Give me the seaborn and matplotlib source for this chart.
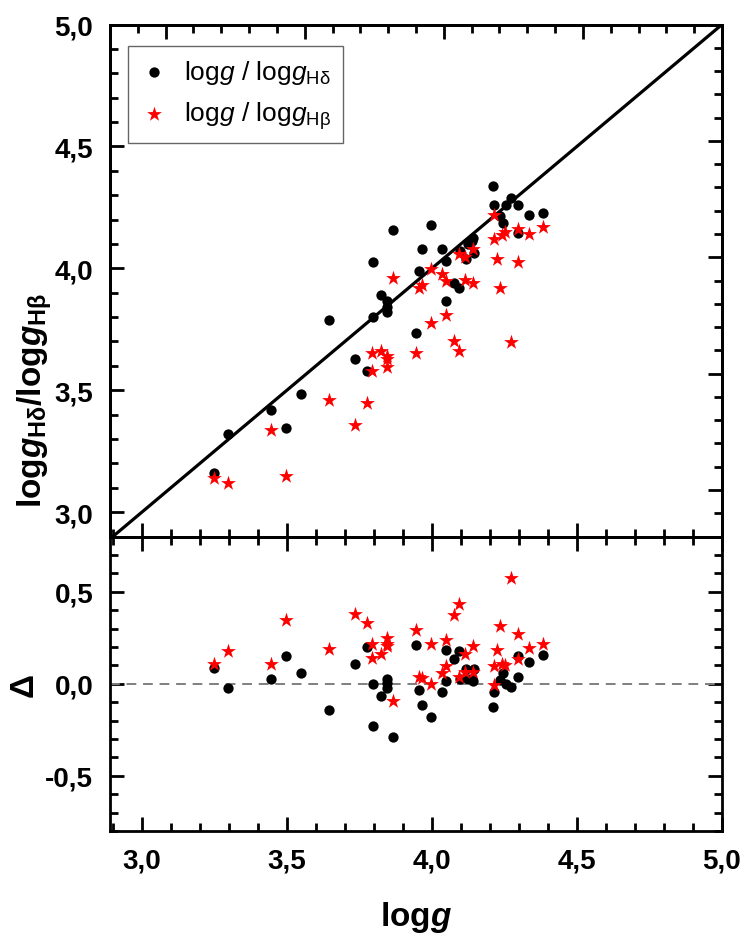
import numpy as np
import pandas as pd
import matplotlib
matplotlib.use("Agg")
import matplotlib.pyplot as plt
import seaborn as sns
from matplotlib import font_manager as fm
from matplotlib.ticker import MultipleLocator, FuncFormatter

# ---------------- data ----------------
# black circles: logg vs logg(H-delta)
logg_d = [3.247, 3.297, 3.446, 3.496, 3.547, 3.646, 3.735, 3.776, 3.796, 3.796,
          3.825, 3.845, 3.845, 3.845, 3.866, 3.946, 3.956, 3.964, 3.995, 4.035,
          4.047, 4.047, 4.075, 4.094, 4.096, 4.117, 4.126, 4.138, 4.143, 4.146,
          4.212, 4.214, 4.234, 4.246, 4.255, 4.274, 4.295, 4.295, 4.333, 4.383]
logg_Hd = [3.160, 3.320, 3.418, 3.347, 3.486, 3.787, 3.627, 3.577, 4.026, 3.800,
           3.889, 3.866, 3.840, 3.820, 4.157, 3.736, 3.990, 4.078, 4.177, 4.078,
           4.031, 3.866, 3.940, 3.918, 4.072, 4.037, 4.098, 4.110, 4.126, 4.064,
           4.337, 4.260, 4.215, 4.187, 4.258, 4.290, 4.258, 4.146, 4.217, 4.228]
# red stars: logg vs logg(H-beta)
logg_b = [3.247, 3.297, 3.446, 3.496, 3.646, 3.736, 3.776, 3.794, 3.794, 3.825,
          3.844, 3.844, 3.844, 3.865, 3.944, 3.956, 3.965, 3.995, 3.995, 4.035,
          4.047, 4.047, 4.075, 4.094, 4.094, 4.114, 4.114, 4.143, 4.143, 4.214,
          4.214, 4.223, 4.234, 4.242, 4.251, 4.274, 4.295, 4.295, 4.333, 4.383]
logg_Hb = [3.138, 3.120, 3.337, 3.149, 3.459, 3.359, 3.448, 3.652, 3.577, 3.661,
           3.640, 3.627, 3.597, 3.959, 3.652, 3.918, 3.932, 3.999, 3.777, 3.978,
           3.948, 3.809, 3.700, 4.060, 3.659, 4.048, 3.951, 4.078, 3.939, 4.219,
           4.119, 4.040, 3.918, 4.137, 4.149, 3.698, 4.160, 4.027, 4.139, 4.169]

df_d = pd.DataFrame({"logg": logg_d, "logg_H": logg_Hd})
df_b = pd.DataFrame({"logg": logg_b, "logg_H": logg_Hb})
df_d["delta"] = df_d["logg"] - df_d["logg_H"]
df_b["delta"] = df_b["logg"] - df_b["logg_H"]

# ---------------- fonts ----------------
names = {f.name for f in fm.fontManager.ttflist}
FONT = "Liberation Sans"
for cand in ("Liberation Sans Narrow", "Arial Narrow", "Nimbus Sans Narrow"):
    if cand in names:
        FONT = cand
        break

sns.set_theme(style="ticks")
plt.rcParams["font.family"] = [FONT, "DejaVu Sans"]
for k in ("text.color", "axes.labelcolor", "xtick.color", "ytick.color", "axes.edgecolor"):
    plt.rcParams[k] = "black"
plt.rcParams["mathtext.fontset"] = "custom"
plt.rcParams["mathtext.rm"] = FONT
plt.rcParams["mathtext.it"] = FONT + ":italic"
plt.rcParams["mathtext.bf"] = FONT + ":bold"
try:
    plt.rcParams["mathtext.bfit"] = FONT + ":bold:italic"
except Exception:
    pass

fmt = FuncFormatter(lambda v, p: ("%.1f" % (0.0 if abs(v) < 1e-9 else v)).replace(".", ","))

# ---------------- figure ----------------
W, H = 747, 945
fig = plt.figure(figsize=(W / 100, H / 100), dpi=100)
L, R = 110 / W, 722 / W
ytop, ymid, ybot = 25.5, 537.5, 832
ax1 = fig.add_axes([L, 1 - ymid / H, R - L, (ymid - ytop) / H])
ax2 = fig.add_axes([L, 1 - ybot / H, R - L, (ybot - ymid) / H], sharex=ax1)

lab_d = r"$\mathrm{log}\mathit{g}$ / $\mathrm{log}\mathit{g}_{\mathrm{H\delta}}$"
lab_b = r"$\mathrm{log}\mathit{g}$ / $\mathrm{log}\mathit{g}_{\mathrm{H\beta}}$"

sns.scatterplot(data=df_d, x="logg", y="logg_H", ax=ax1, color="black", marker="o",
                s=55, linewidth=0, label=lab_d, zorder=3)
sns.scatterplot(data=df_b, x="logg", y="logg_H", ax=ax1, color="red", marker="*",
                s=125, linewidth=0, label=lab_b, zorder=3)
ax1.axline((3.0, 3.0), (5.0, 5.0), color="black", lw=2.3, zorder=2)

sns.scatterplot(data=df_d, x="logg", y="delta", ax=ax2, color="black", marker="o",
                s=55, linewidth=0, legend=False, zorder=3)
sns.scatterplot(data=df_b, x="logg", y="delta", ax=ax2, color="red", marker="*",
                s=125, linewidth=0, legend=False, zorder=3)
ax2.axhline(0.0, color="#7f7f7f", lw=1.4, ls=(0, (5, 3.5)), zorder=1)

ax1.set_xlim(2.89, 5.0)
ax1.set_ylim(2.9, 5.0)
ax2.set_ylim(-0.8, 0.8)

ax1.xaxis.set_major_locator(MultipleLocator(0.5))
ax1.xaxis.set_minor_locator(MultipleLocator(0.1))
ax1.yaxis.set_major_locator(MultipleLocator(0.5))
ax1.yaxis.set_minor_locator(MultipleLocator(0.1))
ax2.yaxis.set_major_locator(MultipleLocator(0.5))
ax2.yaxis.set_minor_locator(MultipleLocator(0.1))
ax2.xaxis.set_major_formatter(fmt)
ax1.yaxis.set_major_formatter(fmt)
ax2.yaxis.set_major_formatter(fmt)

tick_kw = dict(direction="in", width=2.0, color="black")
for ax in (ax1, ax2):
    for s in ax.spines.values():
        s.set_linewidth(2.0)
        s.set_color("black")
    ax.tick_params(which="major", length=10, **tick_kw)
    ax.tick_params(which="minor", length=5.5, **tick_kw)
    ax.tick_params(labelsize=20, pad=12, labelcolor="black")

ax1.tick_params(which="both", top=False, right=False, labelbottom=False)
ax2.tick_params(which="both", top=True, right=True, labeltop=False, labelright=False)

# secondary top / right axes of the upper panel (slightly different range)
axt = ax1.twiny()
axt.set_xlim(2.8, 5.0)
axr = ax1.twinx()
axr.set_ylim(2.8, 5.0)
for a, which in ((axt, "x"), (axr, "y")):
    a.tick_params(axis=which, which="major", length=10, **tick_kw)
    a.tick_params(axis=which, which="minor", length=5.5, **tick_kw)
    for s in a.spines.values():
        s.set_linewidth(2.0)
        s.set_color("black")
axt.xaxis.set_major_locator(MultipleLocator(0.5))
axt.xaxis.set_minor_locator(MultipleLocator(0.1))
axt.tick_params(axis="x", labeltop=False)
axr.yaxis.set_major_locator(MultipleLocator(0.5))
axr.yaxis.set_minor_locator(MultipleLocator(0.1))
axr.tick_params(axis="y", labelright=False)
axt.set_ylim(ax1.get_ylim())
axr.set_xlim(ax1.get_xlim())

for lab in ax1.get_yticklabels() + ax2.get_yticklabels() + ax2.get_xticklabels():
    lab.set_fontweight("bold")
    lab.set_fontsize(20)
    lab.set_color("black")

# labels
ax1.set_xlabel("")
ax1.set_ylabel(r"$\mathbf{log}\mathbfit{g}_{\mathbf{H\delta}}\mathbf{/log}\mathbfit{g}_{\mathbf{H\beta}}$",
               fontsize=24, color="black")
ax1.yaxis.set_label_coords(-0.092, 0.268)
ax2.set_ylabel("Δ", fontsize=24, fontweight="bold", color="black")
ax2.yaxis.set_label_coords(-0.115, 0.5)
ax2.set_xlabel(r"$\mathbf{log}\mathbfit{g}$", fontsize=24, labelpad=18, color="black")

leg = ax1.legend(loc="upper left", bbox_to_anchor=(0.029, 0.958), borderaxespad=0,
                 frameon=True, fancybox=False, framealpha=1, edgecolor="#666666",
                 fontsize=19, handletextpad=0.6, borderpad=0.45, labelspacing=0.5,
                 handlelength=1.1, markerscale=1.0)
leg.get_frame().set_linewidth(1.0)
leg.set_zorder(10)
for t in leg.get_texts():
    t.set_color("black")

fig.savefig("out.png", dpi=100)
